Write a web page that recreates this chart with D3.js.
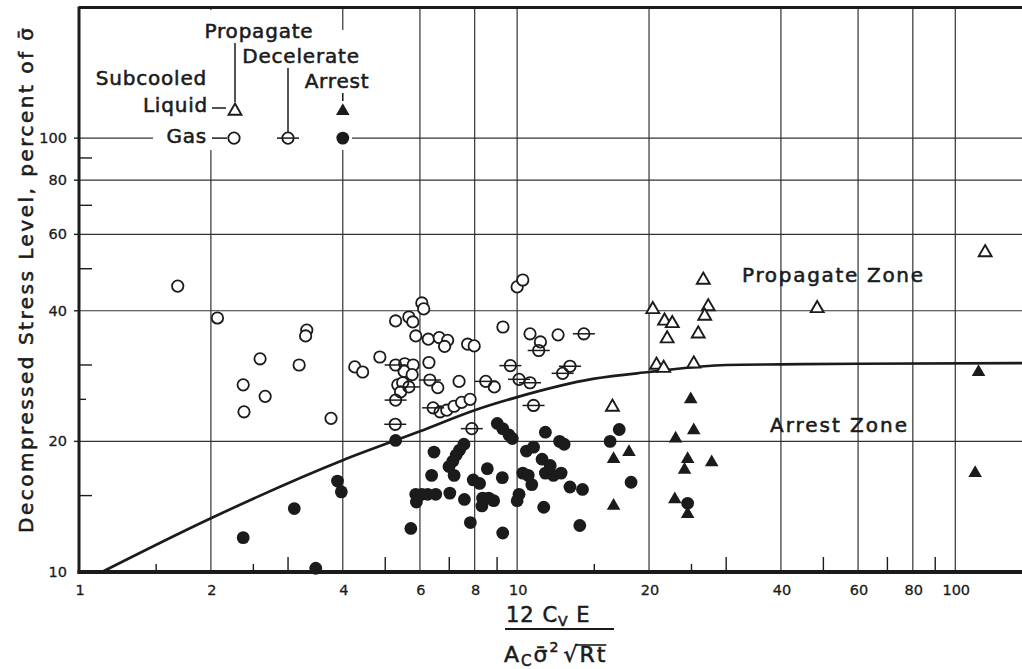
<!DOCTYPE html>
<html>
<head>
<meta charset="utf-8">
<script src="https://cdn.jsdelivr.net/npm/d3@7"></script>
<style>
  html, body { margin: 0; padding: 0; background: #fff; }
  svg { display: block; font-family: "DejaVu Sans", sans-serif; }
  .lettering { stroke: #1b1b1b; stroke-width: 0.55px; }
</style>
</head>
<body>
<svg id="chart" width="1022" height="669"></svg>
<script>
// ---- axis ticks ----
const xLabelTicks = [1, 2, 4, 6, 8, 10, 20, 40, 60, 80, 100];
const yLabelTicks = [10, 20, 40, 60, 80, 100];
const xGridTicks = [2, 4, 6, 8, 10, 20, 40, 60, 80, 100];
const yGridTicks = [20, 40, 60, 80, 100];
const xMinorLong = [3, 5, 7, 9, 30, 50, 70, 90];
const xMinorShort = [1.5, 2.5, 15, 25];
const yMinorLong = [15, 30, 50, 70, 90];
const yMinorShort = [25];

// ---- arrest / propagate boundary ----
const boundaryX = [1.128, 2, 4, 6, 8, 10, 15, 20, 30, 40, 60, 142];
const boundaryY = [10, 13.3, 18.1, 21.1, 23.6, 25.3, 27.9, 28.9, 30.0, 30.1, 30.2, 30.3];

// ---- gas, crack propagated (open circles) ----
const gasPropX = [1.68, 2.07, 3.31, 3.29, 2.59, 3.18, 2.37, 2.66, 2.38, 3.76,
  4.26, 4.44, 4.86, 5.28, 5.66, 5.78, 6.06, 6.12, 5.87, 6.27,
  6.64, 6.94, 6.83, 7.71, 7.98, 9.28, 10.0, 10.3, 10.7, 11.3,
  12.4, 6.29, 7.37, 5.54, 5.79, 5.52, 5.76, 5.34, 5.48, 5.42,
  6.59, 6.67, 6.91, 7.18, 7.47, 7.81, 8.87];
const gasPropY = [45.6, 38.5, 36.1, 35.0, 31.0, 30.0, 27.0, 25.4, 23.4, 22.6,
  29.7, 28.9, 31.3, 37.9, 38.7, 37.7, 41.7, 40.4, 35.0, 34.4,
  34.7, 34.2, 33.1, 33.5, 33.2, 36.7, 45.4, 47.1, 35.4, 33.9,
  35.2, 30.4, 27.5, 30.2, 30.0, 29.0, 28.5, 27.0, 27.3, 26.0,
  26.6, 23.4, 23.6, 24.1, 24.6, 25.0, 26.7];

// ---- gas, crack decelerated (circle with bar) ----
const gasDecelX = [5.28, 5.66, 5.28, 5.27, 6.32, 6.43, 7.88, 8.48, 9.65, 10.1,
  10.7, 10.9, 11.2, 14.2, 12.7, 13.2];
const gasDecelY = [30.0, 26.7, 24.9, 21.9, 27.7, 23.9, 21.4, 27.5, 29.9, 27.8,
  27.3, 24.2, 32.4, 35.4, 28.7, 29.8];

// ---- gas, crack arrested (filled circles) ----
const gasArrestX = [2.37, 3.10, 3.47, 3.89, 3.97, 5.28, 6.46, 7.56, 7.39, 7.26,
  7.13, 6.99, 6.38, 7.18, 8.55, 9.25, 7.94, 8.21, 5.87, 6.06,
  6.25, 6.52, 5.89, 7.02, 7.58, 8.34, 8.61, 8.84, 8.31, 10.1,
  10.0, 11.5, 13.9, 5.72, 7.82, 9.27, 9.01, 9.27, 9.58, 9.75,
  10.5, 10.9, 11.6, 12.5, 12.8, 11.4, 11.9, 10.3, 10.6, 10.8,
  11.6, 12.1, 12.6, 13.2, 14.1, 16.3, 17.1, 18.2, 24.5];
const gasArrestY = [12.0, 14.0, 10.2, 16.2, 15.3, 20.1, 18.9, 19.7, 19.1, 18.6,
  18.0, 17.5, 16.7, 16.7, 17.3, 16.5, 16.3, 16.0, 15.1, 15.1,
  15.1, 15.1, 14.5, 15.2, 14.7, 14.8, 14.8, 14.6, 14.2, 15.1,
  14.6, 14.1, 12.8, 12.6, 13.0, 12.3, 22.0, 21.4, 20.7, 20.3,
  19.0, 19.4, 21.0, 20.0, 19.7, 18.2, 17.6, 16.9, 16.7, 15.9,
  16.9, 16.7, 16.9, 15.7, 15.5, 20.0, 21.3, 16.1, 14.4];

// ---- subcooled liquid, crack propagated (open triangles) ----
const liqPropX = [26.6, 20.4, 27.3, 26.8, 21.7, 22.6, 22.0, 25.9, 20.8, 21.6, 25.3, 16.5, 117, 48.4];
const liqPropY = [47.1, 40.3, 40.9, 38.9, 37.9, 37.4, 34.5, 35.4, 30.0, 29.5, 30.2, 24.0, 54.5, 40.5];

// ---- subcooled liquid, crack arrested (filled triangles) ----
const liqArrestX = [24.9, 25.3, 23.0, 18.0, 16.6, 24.5, 27.8, 24.1, 16.6, 22.9, 24.5, 113, 111];
const liqArrestY = [25.0, 21.2, 20.3, 18.9, 18.2, 18.2, 17.9, 17.2, 14.2, 14.7, 13.6, 28.9, 16.9];

const zip = (xs, ys) => xs.map((v, i) => ({ x: v, y: ys[i] }));

const svg = d3.select("#chart");
const ink = "#1b1b1b";
const x = d3.scaleLog().domain([1, 142]).range([79, 1022]);
const y = d3.scaleLog().domain([10, 200]).range([572, 7.5]);

// ---- grid ----
const grid = svg.append("g").attr("stroke", "#333").attr("stroke-width", 1.2);
grid.selectAll("line.gv").data(xGridTicks).join("line").attr("class", "gv")
  .attr("x1", d => x(d)).attr("x2", d => x(d)).attr("y1", y(200)).attr("y2", y(10));
grid.selectAll("line.gh").data(yGridTicks).join("line").attr("class", "gh")
  .attr("x1", x(1)).attr("x2", 1022).attr("y1", d => y(d)).attr("y2", d => y(d));

// clear area behind the key
svg.append("rect").attr("x", 153).attr("y", 10).attr("width", 177).attr("height", 140).attr("fill", "#fff");
svg.append("rect").attr("x", 330).attr("y", 30).attr("width", 22).attr("height", 120).attr("fill", "#fff");

// ---- marker helpers ----
const triOpen = d3.symbol().type(d3.symbolTriangle).size(72);
const triFill = d3.symbol().type(d3.symbolTriangle).size(80);
function openCircle(g, cx, cy) {
  g.append("circle").attr("cx", cx).attr("cy", cy).attr("r", 5.7)
    .attr("fill", "#fff").attr("stroke", ink).attr("stroke-width", 1.8);
}
function decelCircle(g, cx, cy) {
  g.append("line").attr("x1", cx - 11).attr("x2", cx + 11).attr("y1", cy).attr("y2", cy)
    .attr("stroke", ink).attr("stroke-width", 1.5);
  g.append("circle").attr("cx", cx).attr("cy", cy).attr("r", 5.7)
    .attr("fill", "none").attr("stroke", ink).attr("stroke-width", 1.8);
}
function filledCircle(g, cx, cy) {
  g.append("circle").attr("cx", cx).attr("cy", cy).attr("r", 6.4).attr("fill", ink);
}
function openTri(g, cx, cy) {
  g.append("path").attr("d", triOpen()).attr("transform", `translate(${cx},${cy})`)
    .attr("fill", "#fff").attr("stroke", ink).attr("stroke-width", 1.9).attr("stroke-linejoin", "miter");
}
function filledTri(g, cx, cy) {
  g.append("path").attr("d", triFill()).attr("transform", `translate(${cx},${cy})`).attr("fill", ink);
}

// ---- boundary curve ----
const boundary = zip(boundaryX, boundaryY);
svg.append("path").datum(boundary)
  .attr("d", d3.line().x(d => x(d.x)).y(d => y(d.y)).curve(d3.curveMonotoneX))
  .attr("fill", "none").attr("stroke", ink).attr("stroke-width", 2.7);

// ---- data points ----
const pts = svg.append("g");
zip(gasPropX, gasPropY).forEach(d => openCircle(pts, x(d.x), y(d.y)));
zip(gasDecelX, gasDecelY).forEach(d => decelCircle(pts, x(d.x), y(d.y)));
zip(gasArrestX, gasArrestY).forEach(d => filledCircle(pts, x(d.x), y(d.y)));
zip(liqPropX, liqPropY).forEach(d => openTri(pts, x(d.x), y(d.y)));
zip(liqArrestX, liqArrestY).forEach(d => filledTri(pts, x(d.x), y(d.y)));

// ---- frame ----
const frame = svg.append("g").attr("stroke", ink);
frame.append("line").attr("x1", x(1)).attr("x2", 1022).attr("y1", y(200)).attr("y2", y(200)).attr("stroke-width", 2.8);
frame.append("line").attr("x1", x(1)).attr("x2", x(1)).attr("y1", y(200) - 1).attr("y2", y(10) + 2).attr("stroke-width", 3);
frame.append("line").attr("x1", x(1) - 1.5).attr("x2", 1022).attr("y1", y(10)).attr("y2", y(10)).attr("stroke-width", 4);

// ---- ticks ----
const ticks = svg.append("g").attr("stroke", ink).attr("stroke-width", 1.4);
ticks.selectAll("line.xl").data(xMinorLong).join("line").attr("class", "xl")
  .attr("x1", d => x(d)).attr("x2", d => x(d)).attr("y1", y(10)).attr("y2", y(10) - 15);
ticks.selectAll("line.xs").data(xMinorShort).join("line").attr("class", "xs")
  .attr("x1", d => x(d)).attr("x2", d => x(d)).attr("y1", y(10)).attr("y2", y(10) - 8);
ticks.selectAll("line.yl").data(yMinorLong).join("line").attr("class", "yl")
  .attr("x1", x(1)).attr("x2", x(1) + 13).attr("y1", d => y(d)).attr("y2", d => y(d));
ticks.selectAll("line.ys").data(yMinorShort).join("line").attr("class", "ys")
  .attr("x1", x(1)).attr("x2", x(1) + 7).attr("y1", d => y(d)).attr("y2", d => y(d));
ticks.selectAll("line.yo").data(yLabelTicks.slice(1)).join("line").attr("class", "yo")
  .attr("x1", x(1) - 5).attr("x2", x(1)).attr("y1", d => y(d)).attr("y2", d => y(d));

// ---- tick labels ----
const lbl = svg.append("g").attr("fill", ink).attr("font-size", 14.5)
  .attr("stroke", ink).attr("stroke-width", 0.3);
lbl.selectAll("text.xt").data(xLabelTicks).join("text").attr("class", "xt")
  .attr("x", d => x(d) + 1).attr("y", 595).attr("text-anchor", "middle").text(d => d);
lbl.selectAll("text.yt").data(yLabelTicks).join("text").attr("class", "yt")
  .attr("x", 67).attr("y", d => y(d) + 5).attr("text-anchor", "end").text(d => d);

// ---- key ----
const key = svg.append("g").attr("fill", ink).attr("font-size", 20).attr("letter-spacing", 0.8)
  .attr("class", "lettering");
const keyText = (t, tx, ty, anchor) => key.append("text").attr("x", tx).attr("y", ty)
  .attr("text-anchor", anchor).text(t);
keyText("Propagate", 259, 38, "middle");
keyText("Decelerate", 301, 63, "middle");
keyText("Subcooled", 207, 85, "end");
keyText("Arrest", 337, 88, "middle");
keyText("Liquid", 208, 112, "end");
keyText("Gas", 207, 143, "end");

const keyRow = y(100);
const keyArrest = x(4);
const kl = svg.append("g").attr("stroke", ink).attr("stroke-width", 1.5);
kl.append("line").attr("x1", 235).attr("x2", 235).attr("y1", 43).attr("y2", 102);
kl.append("line").attr("x1", 288).attr("x2", 288).attr("y1", 68).attr("y2", keyRow - 6);
kl.append("line").attr("x1", keyArrest).attr("x2", keyArrest).attr("y1", 93).attr("y2", 101);
kl.append("line").attr("x1", 212).attr("x2", 226).attr("y1", 108).attr("y2", 108);
kl.append("line").attr("x1", 212).attr("x2", 227).attr("y1", keyRow).attr("y2", keyRow);
const km = svg.append("g");
openTri(km, 235, 111);
openCircle(km, 234, keyRow);
decelCircle(km, 288, keyRow);
filledTri(km, keyArrest, 111);
filledCircle(km, keyArrest, keyRow);

// ---- zone labels ----
svg.append("text").attr("x", 742).attr("y", 282).attr("font-size", 20).attr("fill", ink)
  .attr("class", "lettering")
  .attr("textLength", 181).attr("lengthAdjust", "spacing").text("Propagate Zone");
svg.append("text").attr("x", 770).attr("y", 432).attr("font-size", 20).attr("fill", ink)
  .attr("class", "lettering")
  .attr("textLength", 137).attr("lengthAdjust", "spacing").text("Arrest Zone");

// ---- y axis title ----
svg.append("text").attr("transform", "translate(33,533) rotate(-90)")
  .attr("font-size", 20).attr("fill", ink).attr("class", "lettering")
  .attr("textLength", 505).attr("lengthAdjust", "spacing")
  .text("Decompressed Stress Level, percent of  \u03C3\u0304");

// ---- x axis title (fraction) ----
const num = svg.append("text").attr("x", 506).attr("y", 622).attr("font-size", 21).attr("fill", ink)
  .attr("letter-spacing", 1).attr("class", "lettering");
num.append("tspan").text("12 C");
num.append("tspan").attr("font-size", 14).attr("dy", 4).text("V");
num.append("tspan").attr("dy", -4).text(" E");
svg.append("line").attr("x1", 505).attr("x2", 614).attr("y1", 629).attr("y2", 629)
  .attr("stroke", ink).attr("stroke-width", 2);

const den = svg.append("text").attr("x", 504).attr("y", 662).attr("font-size", 22).attr("fill", ink)
  .attr("letter-spacing", 2).attr("class", "lettering");
den.append("tspan").text("A");
den.append("tspan").attr("font-size", 15).attr("dy", 4).text("C");
den.append("tspan").attr("dy", -4).text("\u03C3\u0304");
den.append("tspan").attr("font-size", 14).attr("dy", -10).text("2");
const dw = den.node().getBBox();
const rad = svg.append("text").attr("x", dw.x + dw.width + 3).attr("y", 662).attr("font-size", 22)
  .attr("fill", ink).attr("letter-spacing", 2).attr("class", "lettering");
rad.append("tspan").text("\u221A");
rad.append("tspan").text("Rt");
const rb = rad.node().getBBox();
const rootW = rad.node().getSubStringLength(0, 1);
svg.append("line").attr("x1", rb.x + rootW - 4).attr("x2", rb.x + rb.width - 1)
  .attr("y1", rb.y + 3).attr("y2", rb.y + 3).attr("stroke", ink).attr("stroke-width", 1.6);
</script>
</body>
</html>
